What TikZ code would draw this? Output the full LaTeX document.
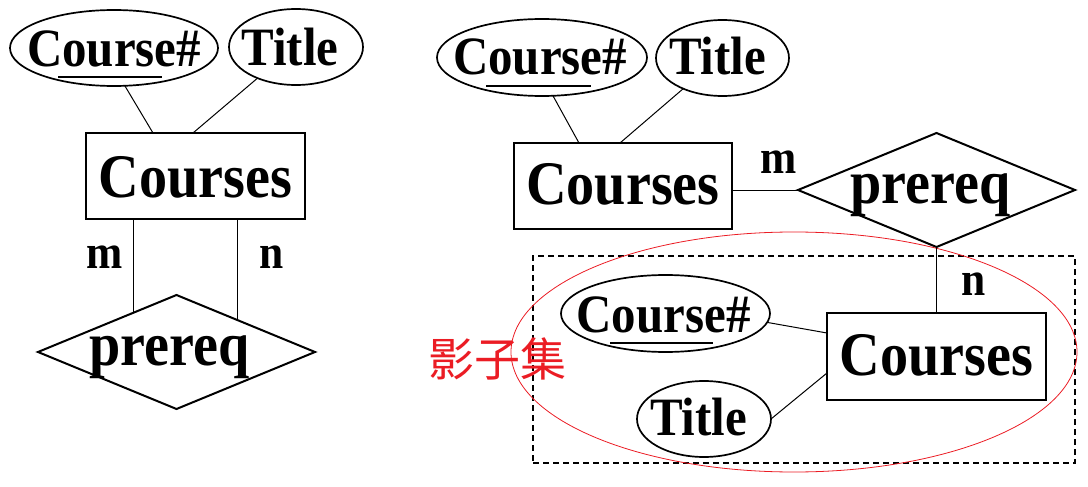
\documentclass[tikz,border=0pt]{standalone}
\usepackage{fontspec}
\usetikzlibrary{shapes.geometric,calc}
\newfontfamily\tnrb[FakeStretch=0.906]{Liberation Serif Bold}
\newfontfamily\cjk{Noto Sans CJK SC}
\definecolor{hlred}{RGB}{235,28,36}
\newcommand\mylbl[3]{\raisebox{-#2}[0pt][0pt]{\makebox[0pt]{\kern#1\relax #3\kern-#1\relax}}}
\begin{document}
\begin{tikzpicture}[x=1pt,y=-1pt,
  ent/.style={draw, line width=2pt, rectangle, inner sep=0pt, outer sep=0pt, minimum width=219pt, minimum height=86pt, font=\tnrb\fontsize{62}{70}\selectfont},
  attr/.style={draw, line width=1.7pt, ellipse, inner sep=0pt, outer sep=0pt, font=\tnrb\fontsize{54}{60}\selectfont},
  rel/.style={draw, line width=2pt, diamond, inner sep=0pt, outer sep=0pt, minimum width=277pt, minimum height=114pt, font=\tnrb\fontsize{62}{70}\selectfont},
  card/.style={inner sep=0pt, anchor=base, font=\tnrb\fontsize{48}{54}\selectfont},
  conn/.style={line width=1pt},
  ul/.style={line width=1.2pt},
  grpbox/.style={draw, line width=1.8pt, dash pattern=on 6pt off 4pt, inner sep=0pt, outer sep=0pt},
  shadowring/.style={draw=hlred, line width=0.8pt, ellipse, inner sep=0pt, outer sep=0pt},
]
\useasboundingbox (0,0) rectangle (1088,487);

% ---- left diagram ----
\node[attr, minimum width=208pt, minimum height=76pt] (k1) at (114,48) {\mylbl{0pt}{19pt}{Course\#}};
\node[attr, minimum width=134pt, minimum height=76pt] (t1) at (296,47) {\mylbl{-6pt}{19pt}{Title}};
\node[ent] (e1) at (195.5,176) {\mylbl{0pt}{21pt}{Courses}};
\node[rel] (d1) at (176.5,352) {\mylbl{-7pt}{13pt}{prereq}};
\node[card] (m1) at (105,268) {m};
\node[card] (n1) at (271.5,268) {n};

\draw[ul] ($(k1.center)+(-56,29)$) -- ++(104,0);
\draw[conn] (k1.-74) -- ($(e1.north west)+(67,0)$);
\draw[conn] (t1.-141) -- ($(e1.north west)+(107,0)$);
\coordinate (pm) at ($(d1.west)!0.693!(d1.north)$);
\coordinate (pn) at ($(d1.north)!0.444!(d1.east)$);
\draw[conn] (e1.south -| pm) -- (pm);
\draw[conn] (e1.south -| pn) -- (pn);

% ---- right diagram ----
\node[attr, minimum width=210pt, minimum height=77pt] (k2) at (542,57.5) {\mylbl{-2pt}{17pt}{Course\#}};
\node[attr, minimum width=133pt, minimum height=76pt] (t2) at (722.5,58) {\mylbl{-5pt}{17pt}{Title}};
\node[ent, minimum width=218pt] (e2) at (623,186) {\mylbl{0pt}{18pt}{Courses}};
\node[rel] (d2) at (936.5,190) {\mylbl{-6pt}{13pt}{prereq}};
\node[card] (m2) at (779,173) {m};
\node[card] (n2) at (974,295) {n};

\node[grpbox, minimum width=542pt, minimum height=207pt] (grp) at (804,359.5) {};
\node[shadowring, minimum width=566pt, minimum height=240pt] (shadow) at (794,352) {};
\node[text=hlred, font=\cjk\fontsize{46}{50}\selectfont, inner sep=0pt] (lbl) at (497,359) {影子集};

\node[attr, minimum width=209pt, minimum height=77pt] (k3) at (665.5,313.5) {\mylbl{-2pt}{18.5pt}{Course\#}};
\node[attr, minimum width=134pt, minimum height=76pt] (t3) at (704,419) {\mylbl{-5.5pt}{16pt}{Title}};
\node[ent, minimum height=87pt] (e3) at (936.5,356.5) {\mylbl{0pt}{18.5pt}{Courses}};

\draw[ul] ($(k2.center)+(-56,28.5)$) -- ++(105,0);
\draw[ul] ($(k3.center)+(-55.5,29.5)$) -- ++(103,0);
\draw[conn] (k2.-74) -- ($(e2.north west)+(65,0)$);
\draw[conn] (t2.-142) -- ($(e2.north west)+(106,0)$);
\draw[conn] (e2.east |- d2.west) -- (d2.west);
\draw[conn] (d2.south) -- (e3.north);
\draw[conn] (k3.-5) -- ($(e3.north west)+(0,20)$);
\draw[conn] (t3.east) -- ($(e3.north west)+(0,60)$);
\end{tikzpicture}
\end{document}
